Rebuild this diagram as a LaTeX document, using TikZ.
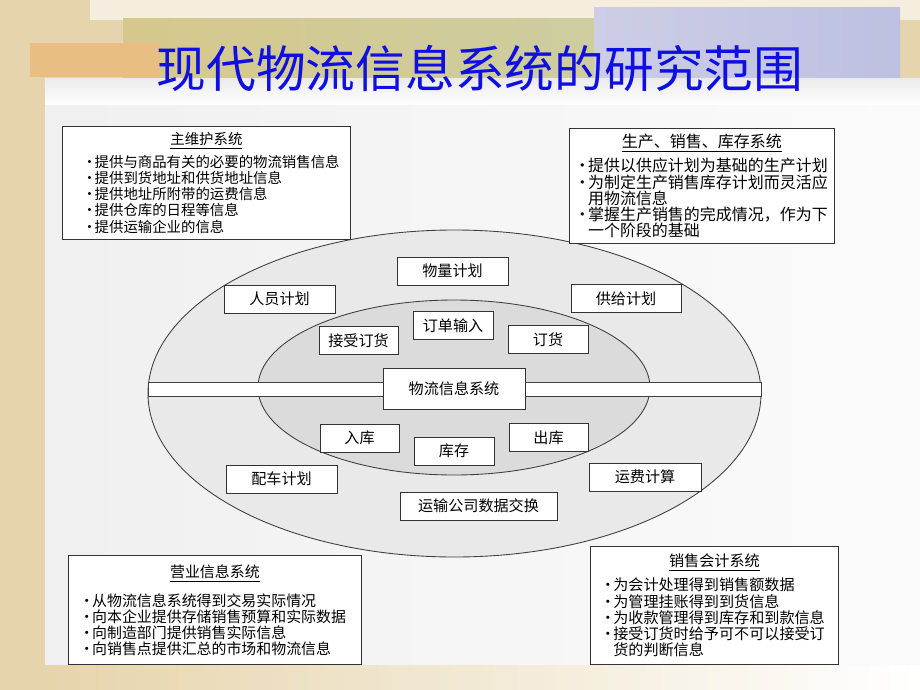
\documentclass[tikz,border=0pt]{standalone}
\usepackage{fontspec}
\setmainfont{Noto Sans CJK SC}
\definecolor{titleblue}{RGB}{15,15,225}
\definecolor{beige}{RGB}{230,212,172}
\definecolor{leafl}{RGB}{214,200,140}
\definecolor{leafr}{RGB}{205,205,160}
\definecolor{lavl}{RGB}{205,205,230}
\definecolor{lavr}{RGB}{190,192,225}
\definecolor{tan}{RGB}{232,190,130}
\newcommand{\itm}{\makebox[0.85em][l]{•}}
\newcommand{\cnt}{\hspace*{0.85em}}

\begin{document}
\begin{tikzpicture}[x=0.02cm,y=-0.02cm,
        unitbox/.style={draw=black!80,line width=0.5pt,fill=white,inner sep=0pt,
            minimum height=0.56cm,font=\fontsize{8.6pt}{9pt}\selectfont},
        sysbox/.style={draw=black!80,line width=0.5pt,fill=white,anchor=north west,
            align=left,inner ysep=0pt}]
        \useasboundingbox (0,0) rectangle (920,690);

        \fill[beige] (0,0) rectangle (920,690);
        \fill[white!60!beige] (90,0) rectangle (920,20);
        \shade[left color=leafl,right color=leafr] (123,18) rectangle (594,100);
        \shade[left color=lavl,right color=lavr] (594,7) rectangle (900,100);
        \fill[tan] (30,43) rectangle (160,77);
        \shade[top color=white!92!black,bottom color=white] (45,78) rectangle (920,105);
        \shade[left color=gray!12,right color=gray!3] (45,105) rectangle (920,665);
        \shade[left color=beige,right color=white] (45,665) rectangle (920,690);

        \node (title) at (480,68)[font=\fontsize{28.3pt}{30pt}\selectfont,text=titleblue]
            {现代物流信息系统的研究范围};

        \draw[draw=black!75,fill=gray!17,line width=0.5pt] (454.5,393.5) ellipse (306.5 and 163.5);
        \draw[draw=black!75,fill=gray!28,line width=0.5pt] (454,387.5) ellipse (196 and 87.5);
        \draw[draw=black!75,fill=white,line width=0.5pt] (148,382) rectangle (761,396);

        \foreach \n/\x/\y/\w/\t in {wljh/452.5/271/111/物量计划, ryjh/279.5/299/111/人员计划,
                gjjh/626/298.5/110/供给计划, ddsr/453/325.5/80/订单输入,
                jsdh/358.5/340.5/79/接受订货, dh/548/339.5/80/订货,
                rk/359.5/438/79/入库, kc/454/451/80/库存, ck/548.5/437.5/79/出库,
                pcjh/281.5/479/111/配车计划, yfjs/645/477/112/运费计算,
                ysgs/478.5/506/157/运输公司数据交换}
            {
                \node (\n) at (\x,\y)[unitbox,minimum width=\w*0.02cm]{\t};
            }
        \node (wlxx) at (454,388.5)[unitbox,minimum width=2.84cm,minimum height=0.82cm]{物流信息系统};

        \node (zwh) at (62,126)[sysbox,minimum height=2.26cm,inner xsep=0.4cm,text width=4.96cm,
                font=\fontsize{8.2pt}{9.25pt}\selectfont]
            {\makebox[\linewidth]{\underline{主维护系统}}\\[2pt]
             \itm 提供与商品有关的必要的物流销售信息\\
             \itm 提供到货地址和供货地址信息\\
             \itm 提供地址所附带的运费信息\\
             \itm 提供仓库的日程等信息\\
             \itm 提供运输企业的信息};

        \node (scxs) at (569,128)[sysbox,minimum height=2.3cm,inner xsep=0.1cm,text width=5.1cm,
                font=\fontsize{9.1pt}{9.25pt}\selectfont]
            {\makebox[\linewidth]{\underline{生产、销售、库存系统}}\\[2.5pt]
             \itm 提供以供应计划为基础的生产计划\\
             \itm 为制定生产销售库存计划而灵活应\\
             \cnt 用物流信息\\
             \itm 掌握生产销售的完成情况，作为下\\
             \cnt 一个阶段的基础};

        \node (yyxx) at (68,555)[sysbox,minimum height=2.18cm,inner xsep=0.22cm,text width=5.42cm,
                font=\fontsize{8.5pt}{9.1pt}\selectfont]
            {\makebox[\linewidth]{\underline{营业信息系统}}\\[5.5pt]
             \itm 从物流信息系统得到交易实际情况\\
             \itm 向本企业提供存储销售预算和实际数据\\
             \itm 向制造部门提供销售实际信息\\
             \itm 向销售点提供汇总的市场和物流信息};

        \node (xskj) at (590,546)[sysbox,minimum height=2.36cm,inner xsep=0.2cm,text width=4.56cm,
                font=\fontsize{8.6pt}{9.25pt}\selectfont]
            {\makebox[\linewidth]{\underline{销售会计系统}}\\[3pt]
             \itm 为会计处理得到销售额数据\\
             \itm 为管理挂账得到到货信息\\
             \itm 为收款管理得到库存和到款信息\\
             \itm 接受订货时给予可不可以接受订\\
             \cnt 货的判断信息};
    \end{tikzpicture}
\end{document}
